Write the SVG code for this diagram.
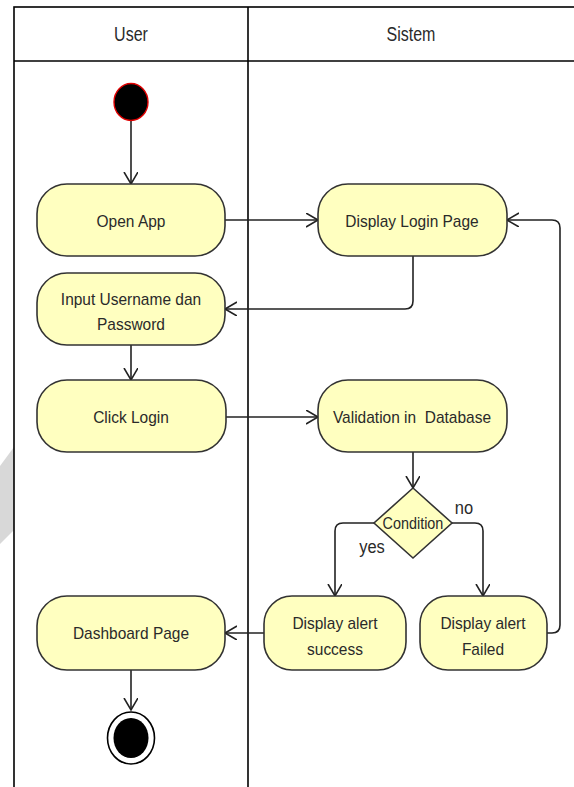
<svg xmlns="http://www.w3.org/2000/svg" width="574" height="787" viewBox="0 0 574 787">
  <style>
    .lane { fill: #ffffff; stroke: #000000; stroke-width: 1.6; }
    .act { fill: #ffffc0; stroke: #333333; stroke-width: 1.6; }
    .lbl { font-family: "Liberation Sans", Arial, sans-serif; font-size: 15.5px; fill: #2a2a2a; text-anchor: middle; white-space: pre;
           transform-box: fill-box; transform-origin: center; transform: scaleY(1.12); }
    .hdr { font-family: "Liberation Sans", Arial, sans-serif; font-size: 16px; fill: #2a2a2a; text-anchor: middle;
           transform-box: fill-box; transform-origin: center; transform: scaleY(1.25); }
    .edge { fill: none; stroke: #222222; stroke-width: 1.6; marker-end: url(#open); }
  </style>
  <defs>
    <marker id="open" markerUnits="userSpaceOnUse" markerWidth="16" markerHeight="16" refX="12" refY="7" orient="auto">
      <path d="M0,0 L12,7 L0,14" fill="none" stroke="#222222" stroke-width="1.6"/>
    </marker>
  </defs>

  <rect width="574" height="787" fill="#ffffff"/>
  <!-- faint background mark at the left edge -->
  <polygon points="0,466 14,447 14,530 0,544" fill="#d8d8d8"/>

  <!-- swimlanes -->
  <g id="lanes">
    <rect class="lane" x="14" y="7" width="600" height="800"/>
    <line x1="14" y1="61" x2="574" y2="61" stroke="#000" stroke-width="1.6"/>
    <line x1="248" y1="7" x2="248" y2="787" stroke="#000" stroke-width="1.6"/>
    <text class="hdr" x="131" y="40">User</text>
    <text class="hdr" x="411" y="40">Sistem</text>
  </g>

  <!-- connectors -->
  <g id="connectors">
    <path class="edge" d="M131,121 V184"/>
    <path class="edge" d="M225,220 H318"/>
    <path class="edge" d="M413,256 V301 Q413,309 405,309 H225"/>
    <path class="edge" d="M131,345 V380"/>
    <path class="edge" d="M226,417 H318"/>
    <path class="edge" d="M413,452 V488"/>
    <path class="edge" d="M374,523 H343 Q335,523 335,531 V596"/>
    <path class="edge" d="M452,523 H475 Q483,523 483,531 V596"/>
    <path class="edge" d="M264,633 H225"/>
    <path class="edge" d="M547,633 H552 Q560,633 560,625 V228 Q560,220 552,220 H507"/>
    <path class="edge" d="M131,670 V710"/>
  </g>

  <g id="start">
    <ellipse cx="131" cy="102" rx="17" ry="18.5" fill="#000000" stroke="#e00000" stroke-width="1.4"/>
  </g>

  <g id="open-app">
    <rect class="act" x="37" y="184" width="188" height="72" rx="30" ry="30"/>
    <text class="lbl" x="131" y="226">Open App</text>
  </g>

  <g id="display-login">
    <rect class="act" x="318" y="184" width="189" height="72" rx="30" ry="30"/>
    <text class="lbl" x="412" y="226">Display Login Page</text>
  </g>

  <g id="input-credentials">
    <rect class="act" x="37" y="273" width="188" height="72" rx="30" ry="30"/>
    <text class="lbl" x="131" y="304">Input Username dan</text>
    <text class="lbl" x="131" y="329">Password</text>
  </g>

  <g id="click-login">
    <rect class="act" x="37" y="380" width="189" height="72" rx="30" ry="30"/>
    <text class="lbl" x="131" y="422">Click Login</text>
  </g>

  <g id="validation">
    <rect class="act" x="318" y="380" width="189" height="72" rx="30" ry="30"/>
    <text class="lbl" x="412" y="422">Validation in  Database</text>
  </g>

  <g id="condition">
    <polygon class="act" points="413,488 452,523 413,558 374,523"/>
    <text class="lbl" style="font-size:14.4px" x="413" y="528">Condition</text>
    <text class="lbl" style="font-size:16.5px" x="464" y="513">no</text>
    <text class="lbl" style="font-size:16.5px" x="372" y="552">yes</text>
  </g>

  <g id="alert-success">
    <rect class="act" x="264" y="596" width="142" height="74" rx="28" ry="28"/>
    <text class="lbl" x="335" y="628">Display alert</text>
    <text class="lbl" x="335" y="654">success</text>
  </g>

  <g id="alert-failed">
    <rect class="act" x="420" y="596" width="127" height="74" rx="28" ry="28"/>
    <text class="lbl" x="483" y="628">Display alert</text>
    <text class="lbl" x="483" y="654">Failed</text>
  </g>

  <g id="dashboard">
    <rect class="act" x="37" y="596" width="188" height="74" rx="30" ry="30"/>
    <text class="lbl" x="131" y="638">Dashboard Page</text>
  </g>

  <g id="end">
    <ellipse cx="131" cy="738" rx="23.5" ry="26" fill="#ffffff" stroke="#000000" stroke-width="1.6"/>
    <ellipse cx="131" cy="738" rx="17.5" ry="20" fill="#000000"/>
  </g>
</svg>
